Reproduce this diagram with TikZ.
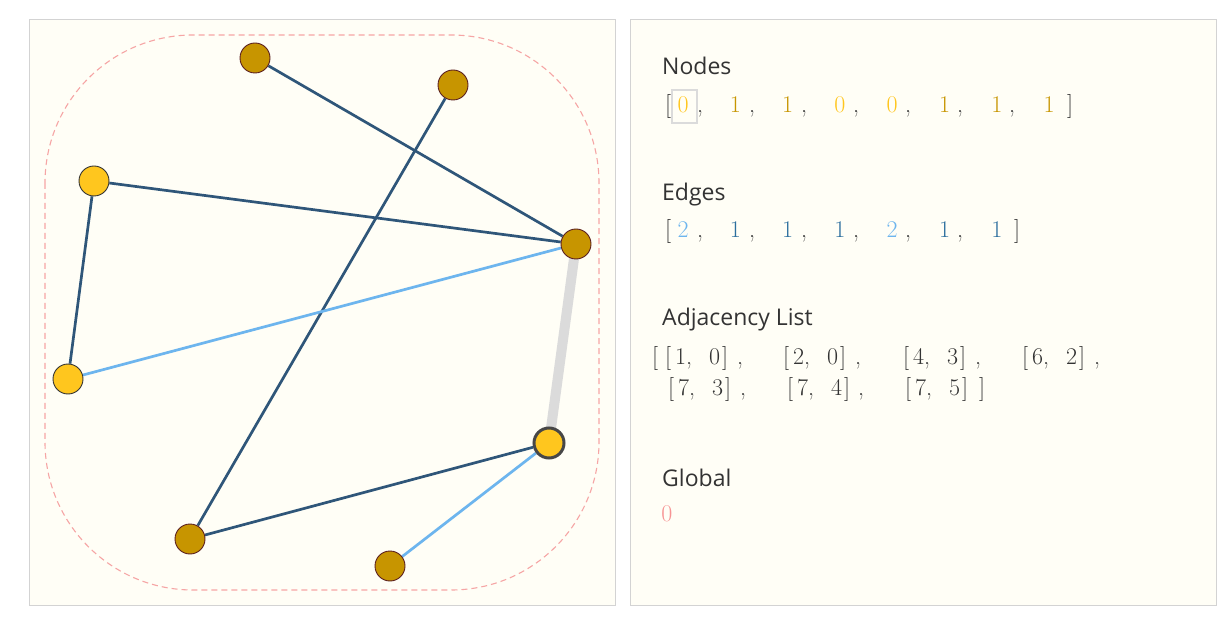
\documentclass[tikz,border=0pt]{standalone}
\usepackage{fontspec}
\usetikzlibrary{positioning,backgrounds}
\newfontfamily\uifont{Open Sans}
\definecolor{panel}{HTML}{FFFEF6}
\definecolor{frame}{HTML}{D3D3D3}
\definecolor{gold}{HTML}{C79500}
\definecolor{sun}{HTML}{FFC61E}
\definecolor{navy}{HTML}{2F5679}
\definecolor{sky}{HTML}{6DB5EE}
\definecolor{deep}{HTML}{2B6E9E}
\definecolor{rose}{HTML}{F6A5A5}
\definecolor{ink}{HTML}{333333}
\definecolor{rim}{HTML}{5B1F1F}

\begin{document}
\begin{tikzpicture}[x=1pt,y=-1pt,
  vtx/.style={circle,minimum size=30pt,inner sep=0pt,line width=.9pt},
  goldvtx/.style={vtx,fill=gold,draw=rim},
  sunvtx/.style={vtx,fill=sun,draw=ink},
  link/.style={navy,line width=2.7pt},
  heavy/.style={sky,line width=2.7pt},
  head/.style={anchor=base west,inner sep=0pt,text=ink,font=\uifont\fontsize{23}{23}\selectfont},
  num/.style={anchor=base,inner sep=0pt,text=ink,font=\fontsize{24}{24}\selectfont}]
\useasboundingbox (0,0) rectangle (1229,617);
\begin{scope}[on background layer]
\fill[white] (0,0) rectangle (1229,617);
\draw[frame,fill=panel] (29.5,19.5) rectangle (615.5,605.5);
\draw[frame,fill=panel] (630.5,19.5) rectangle (1216.5,605.5);
\draw[rose,line width=1.1pt,dash pattern=on 6pt off 4pt,rounded corners=148pt] (45,35) rectangle (599,590);
\end{scope}
% graph
\node[goldvtx] (a) at (255,58){};\node[goldvtx] (b) at (453,85){};
\node[sunvtx] (c) at (94,181){};\node[goldvtx] (d) at (576,244){};
\node[sunvtx] (e) at (68,379){};\node[sunvtx,draw=ink!90,line width=3pt] (f) at (549,443){};
\node[goldvtx] (g) at (190,539){};\node[goldvtx] (h) at (390,566){};
\begin{scope}[on background layer]
\draw[black!14,line width=10pt] (d.center)--(f.center);
\draw[link] (a)--(d);\draw[link] (b)--(g);\draw[link] (c)--(d);\draw[link] (c)--(e);\draw[link] (f)--(g);
\draw[heavy] (e)--(d);\draw[heavy] (f)--(h);
\end{scope}
% nodes
\node[head] (tnodes) at (662,75){Nodes};
\node[draw=black!14,line width=2pt,minimum width=25pt,minimum height=33pt,inner sep=0pt] (cur) at (684.5,106.5){};
\node[num] (nl) at (668,113){[};\node[num] (nr) at (1070,113){]};
\foreach \v/\c [count=\i from 0] in {0/sun,1/gold,1/gold,0/sun,0/sun,1/gold,1/gold,1/gold}
  \node[num,text=\c] (n\i) at ({683+52.3*\i},113){\v};
\foreach \i in {0,...,6} \node[num] (nc\i) at ({700+52*\i},113){,};
% edges
\node[head] (tedges) at (662,201){Edges};
\node[num] (el) at (668,238){[};\node[num] (er) at (1017,238){]};
\foreach \v/\c [count=\i from 0] in {2/sky,1/deep,1/deep,1/deep,2/sky,1/deep,1/deep}
  \node[num,text=\c] (e\i) at ({683+52.3*\i},238){\v};
\foreach \i in {0,...,5} \node[num] (ec\i) at ({700+52*\i},238){,};
% adjacency
\node[head] (tadj) at (662,326){Adjacency List};
\node[num] (al) at (655,365){[};
\foreach \p/\q/\x [count=\i] in {1/0/665,2/0/783,4/3/903,6/2/1022}{
  \node[num,anchor=base west] (a\i) at (\x,365){[\hspace{4pt}\p,\hspace{17pt}\q\hspace{2pt}]};
  \node[num] (ac\i) at ({\x+75},365){,};}
\foreach \q/\x [count=\i] in {3/668,4/787,5/905}{
  \node[num,anchor=base west] (b\i) at (\x,396){[\hspace{4pt}7,\hspace{17pt}\q\hspace{2pt}]};}
\node[num] (bc1) at (743,396){,};\node[num] (bc2) at (861,396){,};
\node[num] (ar) at (982,396){]};
% global
\node[head] (tglob) at (662,486){Global};
\node[num,text=rose!90!red] (g0) at (667,521){0};
\end{tikzpicture}
\end{document}
